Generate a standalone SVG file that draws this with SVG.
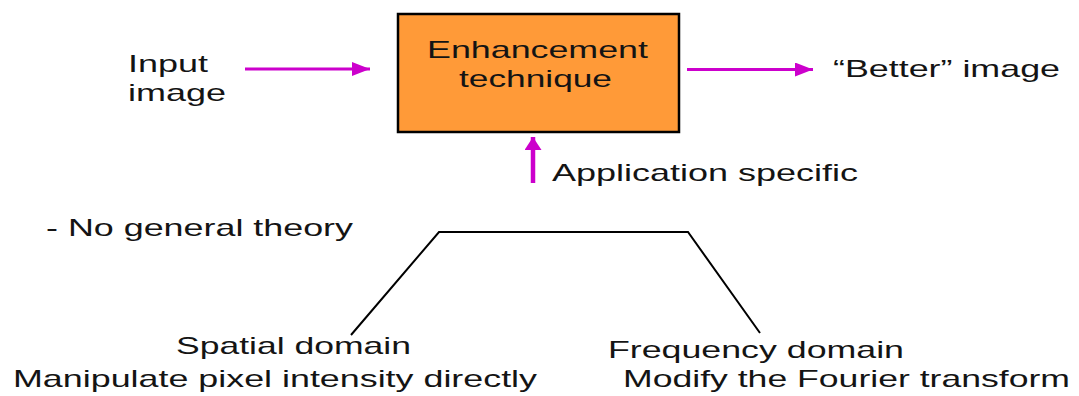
<svg xmlns="http://www.w3.org/2000/svg" width="1079" height="396" viewBox="0 0 1079 396">
<style>
  text { font-family: "Liberation Sans", Arial, sans-serif; font-size: 24px; fill: #141414; }
  .arrow { stroke: #CC00CC; fill: none; }
  .tree { stroke: #000; stroke-width: 2; fill: none; }
</style>
<defs>
  <marker id="headH" markerUnits="userSpaceOnUse" markerWidth="20" markerHeight="16" refX="18" refY="7" orient="auto">
    <path d="M0,0 L18,7 L0,14 Z" fill="#CC00CC"/>
  </marker>
  <marker id="headV" markerUnits="userSpaceOnUse" markerWidth="16" markerHeight="20" refX="13" refY="8.5" orient="auto">
    <path d="M0,0 L13,8.5 L0,17 Z" fill="#CC00CC"/>
  </marker>
</defs>
<rect width="1079" height="396" fill="#fff"/>
<g id="connectors">
  <line class="arrow" x1="245" y1="69" x2="370" y2="69" stroke-width="3" marker-end="url(#headH)"/>
  <line class="arrow" x1="687" y1="69.5" x2="813" y2="69.5" stroke-width="3" marker-end="url(#headH)"/>
  <line class="arrow" x1="533" y1="183" x2="533" y2="137" stroke-width="4.5" marker-end="url(#headV)"/>
  <polyline class="tree" points="351,335 439,232 688,232 760,333"/>
</g>
<g id="input">
  <text x="128" y="72" textLength="80" lengthAdjust="spacingAndGlyphs">Input</text>
  <text x="128" y="101" textLength="98" lengthAdjust="spacingAndGlyphs">image</text>
</g>
<g id="enhancement">
  <rect x="398" y="14" width="281" height="118" fill="#FF9A38" stroke="#000" stroke-width="2.5"/>
  <text x="427" y="58" textLength="221" lengthAdjust="spacingAndGlyphs">Enhancement</text>
  <text x="459" y="87" textLength="153" lengthAdjust="spacingAndGlyphs">technique</text>
</g>
<g id="output">
  <text x="833" y="77" textLength="227" lengthAdjust="spacingAndGlyphs">“Better” image</text>
</g>
<g id="application">
  <text x="552" y="181" textLength="306" lengthAdjust="spacingAndGlyphs">Application specific</text>
</g>
<g id="theory">
  <text x="46" y="236" textLength="307" lengthAdjust="spacingAndGlyphs">- No general theory</text>
</g>
<g id="spatial">
  <text x="176" y="354" textLength="235" lengthAdjust="spacingAndGlyphs">Spatial domain</text>
  <text x="13" y="387" textLength="524" lengthAdjust="spacingAndGlyphs">Manipulate pixel intensity directly</text>
</g>
<g id="frequency">
  <text x="608" y="358" textLength="296" lengthAdjust="spacingAndGlyphs">Frequency domain</text>
  <text x="623" y="387" textLength="447" lengthAdjust="spacingAndGlyphs">Modify the Fourier transform</text>
</g>
</svg>
